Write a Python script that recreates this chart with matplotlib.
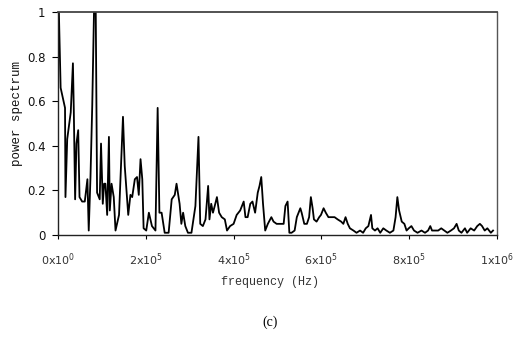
import numpy as np
import matplotlib.pyplot as plt

plt.rcParams['mathtext.default'] = 'regular'

# frequency in kHz
freq_khz = [0, 2, 6, 16, 17, 21, 29, 34, 36, 39, 42, 46, 49, 55, 61, 67, 70, 74, 78,
            82, 86, 89, 95, 98, 102, 105, 108, 112, 116, 118, 122, 127, 131, 139,
            148, 152, 160, 165, 169, 175, 180, 184, 188, 192, 195, 201, 207, 214,
            222, 227, 231, 236, 243, 252, 259, 266, 270, 277, 281, 285, 290, 296,
            304, 313, 320, 324, 330, 336, 342, 345, 349, 353, 357, 362, 367, 373,
            380, 385, 392, 400, 407, 415, 423, 427, 432, 438, 443, 449, 455, 459,
            463, 467, 472, 478, 486, 491, 498, 506, 514, 518, 523, 527, 532, 539,
            544, 548, 552, 555, 561, 567, 572, 576, 580, 583, 589, 595, 599, 605,
            610, 616, 622, 630, 637, 645, 650, 655, 660, 665, 673, 680, 688, 695,
            701, 707, 713, 716, 722, 728, 734, 741, 748, 756, 764, 769, 773, 777,
            783, 789, 794, 799, 805, 811, 819, 828, 836, 843, 848, 852, 858, 866,
            873, 880, 887, 895, 902, 908, 913, 919, 927, 932, 940, 948, 955, 961,
            966, 972, 978, 986, 991]
power = [1.0, 1.0, 0.66, 0.57, 0.17, 0.43, 0.55, 0.77, 0.56, 0.16, 0.41, 0.47, 0.17,
         0.15, 0.15, 0.25, 0.02, 0.26, 0.58, 1.0, 1.0, 0.19, 0.16, 0.41, 0.14, 0.23,
         0.23, 0.09, 0.44, 0.11, 0.23, 0.17, 0.02, 0.09, 0.53, 0.31, 0.09, 0.18,
         0.17, 0.25, 0.26, 0.18, 0.34, 0.25, 0.03, 0.02, 0.10, 0.04, 0.02, 0.57,
         0.10, 0.10, 0.01, 0.01, 0.16, 0.18, 0.23, 0.14, 0.05, 0.10, 0.04, 0.01,
         0.01, 0.13, 0.44, 0.05, 0.04, 0.07, 0.22, 0.07, 0.14, 0.10, 0.13, 0.17,
         0.10, 0.08, 0.07, 0.02, 0.04, 0.05, 0.09, 0.11, 0.15, 0.08, 0.08, 0.14,
         0.15, 0.10, 0.19, 0.22, 0.26, 0.14, 0.02, 0.05, 0.08, 0.06, 0.05, 0.05,
         0.05, 0.13, 0.15, 0.01, 0.01, 0.02, 0.08, 0.10, 0.12, 0.10, 0.05, 0.05,
         0.08, 0.17, 0.12, 0.07, 0.06, 0.08, 0.09, 0.12, 0.10, 0.08, 0.08, 0.08,
         0.07, 0.06, 0.05, 0.08, 0.05, 0.03, 0.02, 0.01, 0.02, 0.01, 0.03, 0.04,
         0.09, 0.03, 0.02, 0.03, 0.01, 0.03, 0.02, 0.01, 0.02, 0.08, 0.17, 0.11,
         0.06, 0.05, 0.02, 0.03, 0.04, 0.02, 0.01, 0.02, 0.01, 0.02, 0.04, 0.02,
         0.02, 0.02, 0.03, 0.02, 0.01, 0.02, 0.03, 0.05, 0.02, 0.01, 0.03, 0.01,
         0.03, 0.02, 0.04, 0.05, 0.04, 0.02, 0.03, 0.01, 0.02]

x_ticks = [0, 2e5, 4e5, 6e5, 8e5, 1e6]
x_tick_labels = ['0x10$^0$', '2x10$^5$', '4x10$^5$', '6x10$^5$', '8x10$^5$', '1x10$^6$']
y_ticks = [0, 0.2, 0.4, 0.6, 0.8, 1]
y_tick_labels = ['0', '0.2', '0.4', '0.6', '0.8', '1']


def main():
    fig = plt.figure(figsize=(5.2, 3.4), dpi=100)
    ax = fig.add_axes([58 / 520, 1 - 235 / 340, 439 / 520, 223 / 340])

    f = np.array(freq_khz) * 1e3
    ax.plot(f, power, color='black', lw=1.3)

    ax.set_xlim(0, 1e6)
    ax.set_ylim(0, 1)
    ax.set_xticks(x_ticks)
    ax.set_xticklabels(x_tick_labels, fontsize=8, color='#333333')
    ax.set_yticks(y_ticks)
    ax.set_yticklabels(y_tick_labels, fontsize=8.5, color='#111111')
    ax.tick_params(axis='x', length=3, width=0.8, pad=9)
    ax.tick_params(axis='y', length=4, width=0.8, pad=5)

    for side in ['left', 'bottom']:
        ax.spines[side].set_linewidth(1.0)
        ax.spines[side].set_color('#222222')
    ax.spines['top'].set_linewidth(1.3)
    ax.spines['top'].set_color('#444444')
    ax.spines['right'].set_linewidth(1.0)
    ax.spines['right'].set_color('#555555')

    ax.set_xlabel('frequency (Hz)', family='Liberation Mono', fontsize=8.5,
                  color='#333333')
    ax.xaxis.set_label_coords((270 - 58) / 439, -0.184)
    ax.set_ylabel('power spectrum', family='Liberation Mono', fontsize=9,
                  color='#111111')
    ax.yaxis.set_label_coords(-0.08, (235 - 113) / 223)

    fig.text(270 / 520, 1 - 322 / 340, '(c)', family='Liberation Serif',
             fontsize=10, ha='center', va='center')

    fig.savefig('out.png', dpi=100)


if __name__ == '__main__':
    main()
